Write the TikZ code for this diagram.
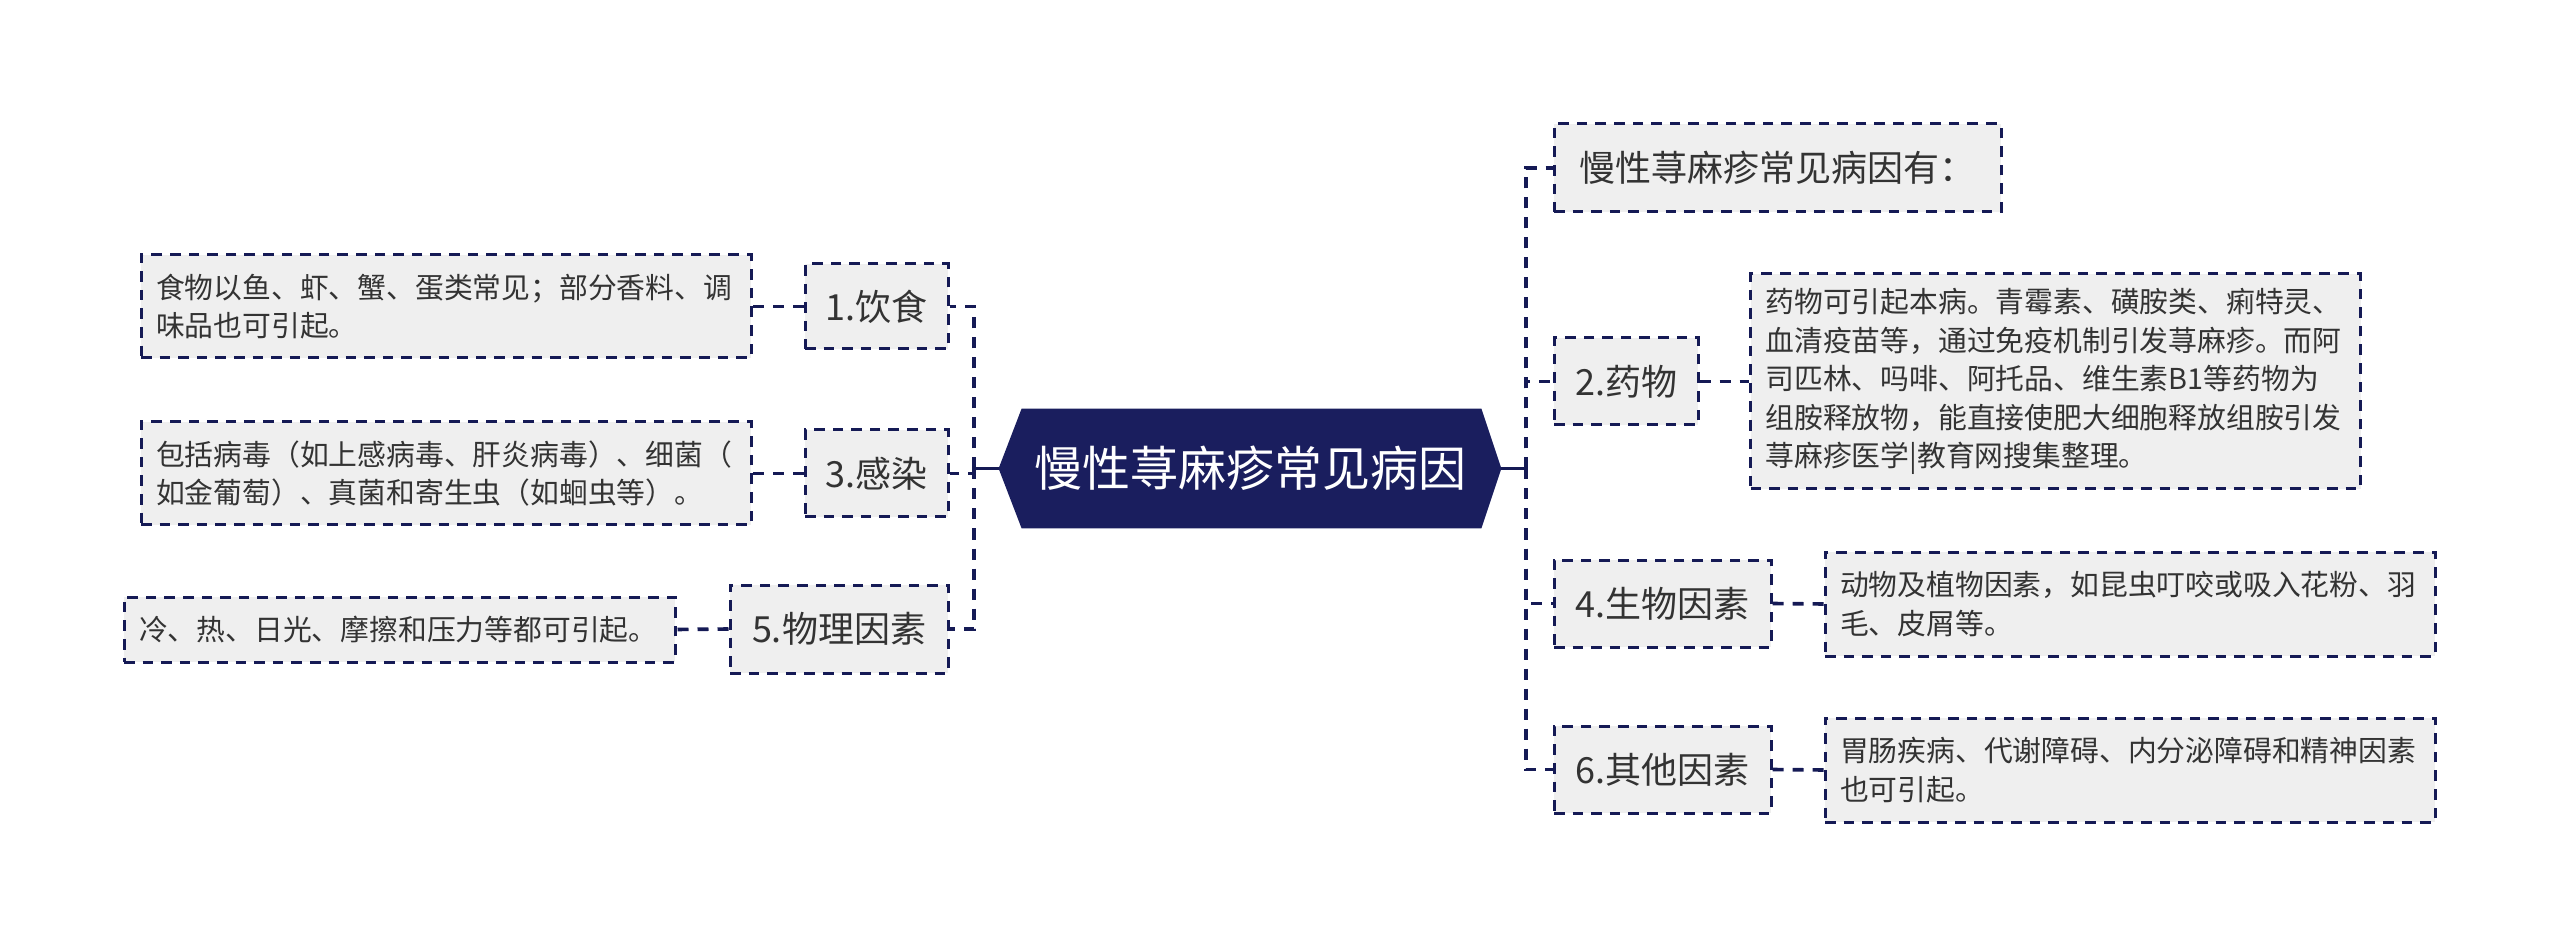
\documentclass[tikz,border=0pt]{standalone}
\usepackage{fontspec}
\setmainfont{Noto Sans CJK SC}
\usetikzlibrary{backgrounds}
\definecolor{navy}{HTML}{1A1E5E}
\definecolor{linenavy}{HTML}{151A55}
\definecolor{boxfill}{HTML}{EFEFEF}
\definecolor{txt}{HTML}{333333}
\begin{document}
\begin{tikzpicture}[x=0.5pt,y=-0.5pt,
  box/.style={draw=linenavy, line width=1.5pt, dash pattern=on 5.3pt off 4pt, fill=boxfill, text=txt, inner sep=0pt},
  topic/.style={box, font=\fontsize{18}{22}\selectfont, align=center},
  detail/.style={box, font=\fontsize{14.4}{19.2}\selectfont, align=left, inner xsep=7.5pt},
  conn/.style={draw=linenavy, line width=1.8pt, dash pattern=on 5.5pt off 4.5pt},
  solidconn/.style={draw=linenavy, line width=1.8pt}]
\useasboundingbox (0,0) rectangle (2560,946);

% root
\node[text=white, font=\fontsize{24}{28}\selectfont, minimum width=251pt, minimum height=59.5pt, inner sep=0pt] (root) at (1250,468.5) {慢性荨麻疹常见病因};
\begin{scope}[on background layer]
\fill[navy] (root.west) -- ([xshift=11.5pt]root.north west) -- ([xshift=-10pt]root.north east) -- (root.east) -- ([xshift=-10pt]root.south east) -- ([xshift=11.5pt]root.south west) -- cycle;
\end{scope}

% left topics
\node[topic, minimum width=71.5pt, minimum height=42.5pt] (n1) at (876.5,306.5) {1.饮食};
\node[topic, minimum width=71.5pt, minimum height=43.5pt] (n3) at (876.5,473.5) {3.感染};
\node[topic, minimum width=109pt, minimum height=44pt] (n5) at (839,629) {5.物理因素};

% left details
\node[detail, text width=290pt, minimum height=51.5pt] (d1) at (446,306.5) {食物以鱼、虾、蟹、蛋类常见；部分香料、调\\味品也可引起。};
\node[detail, text width=290pt, minimum height=51.5pt] (d3) at (446,473.5) {包括病毒（如上感病毒、肝炎病毒）、细菌（\\如金葡萄）、真菌和寄生虫（如蛔虫等）。};
\node[detail, text width=260.5pt, minimum height=32.5pt] (d5) at (399.5,629.5) {冷、热、日光、摩擦和压力等都可引起。};

% right topics
\node[topic, minimum width=223.5pt, minimum height=44pt] (r0) at (1777.5,168) {慢性荨麻疹常见病因有：};
\node[topic, minimum width=72pt, minimum height=43.5pt] (n2) at (1626,381.5) {2.药物};
\node[topic, minimum width=108.5pt, minimum height=43.5pt] (n4) at (1662.5,603.5) {4.生物因素};
\node[topic, minimum width=108.5pt, minimum height=43.5pt] (n6) at (1662.5,769.5) {6.其他因素};

% right details
\node[detail, text width=290pt, minimum height=107.5pt] (d2) at (2055.5,381.5) {药物可引起本病。青霉素、磺胺类、痢特灵、\\血清疫苗等，通过免疫机制引发荨麻疹。而阿\\司匹林、吗啡、阿托品、维生素B1等药物为\\组胺释放物，能直接使肥大细胞释放组胺引发\\荨麻疹医学|教育网搜集整理。};
\node[detail, text width=290pt, minimum height=52pt] (d4) at (2130,604) {动物及植物因素，如昆虫叮咬或吸入花粉、羽\\毛、皮屑等。};
\node[detail, text width=290pt, minimum height=52pt] (d6) at (2130,770) {胃肠疾病、代谢障碍、内分泌障碍和精神因素\\也可引起。};

% buses
\coordinate (Lbus) at (974,468.5);
\coordinate (Rbus) at (1526,468.5);

\draw[solidconn] (root.west) -- (Lbus);
\draw[solidconn] (root.east) -- (Rbus);
\foreach \n in {n1,n3,n5} \draw[conn] (Lbus) |- (\n.east);
\foreach \n in {r0,n2,n4,n6} \draw[conn] (Rbus) |- (\n.west);

\draw[conn] (n1.west) -- (d1.east);
\draw[conn] (n3.west) -- (d3.east);
\draw[conn] (n5.west) -- (d5.east);
\draw[conn] (n2.east) -- (d2.west);
\draw[conn] (n4.east) -- (d4.west);
\draw[conn] (n6.east) -- (d6.west);
\end{tikzpicture}
\end{document}
